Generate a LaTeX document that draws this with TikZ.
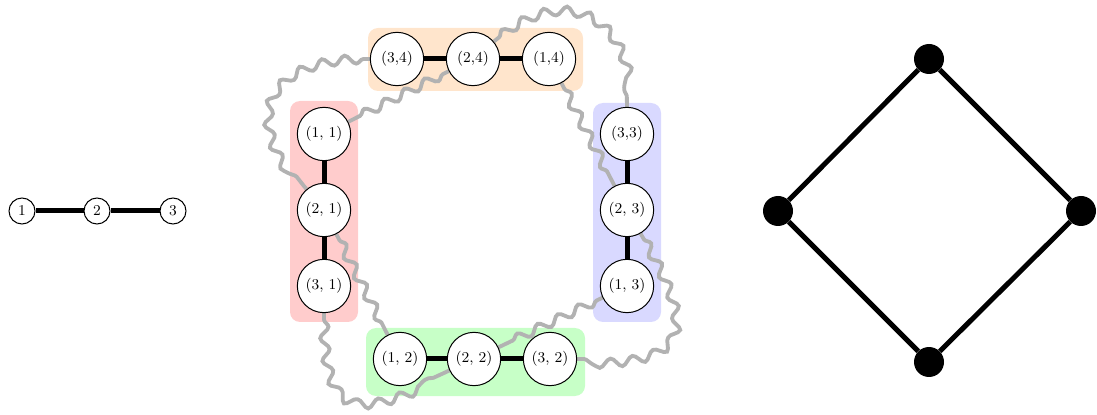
\documentclass[tikz,border=0pt]{standalone}
\usetikzlibrary{decorations.pathmorphing}
\pgfdeclarelayer{back}
\pgfdeclarelayer{mid}
\pgfsetlayers{back,mid,main}
\begin{document}
\begin{tikzpicture}[x=0.6pt,y=-0.6pt,
  small/.style={circle,draw,line width=0.6pt,fill=white,minimum size=15.6pt,inner sep=0pt,font=\small},
  big/.style={circle,draw,line width=0.6pt,fill=white,minimum size=32pt,inner sep=0pt,font=\small},
  dot/.style={circle,fill=black,minimum size=18pt,inner sep=0pt},
  thickedge/.style={line width=3pt},
  wavy/.style={black!30,line width=2.3pt,decorate,decoration={snake,amplitude=2.6pt,segment length=13.5pt,pre length=4pt,post length=4pt}},
  group/.style={rounded corners=6pt}]
\useasboundingbox (0,0) rectangle (1097,415);
% left path graph
\node[small] (p1) at (22,211) {1};
\node[small] (p2) at (97,211) {2};
\node[small] (p3) at (173,211) {3};
\draw[thickedge] (p1) -- (p2) (p2) -- (p3);
% nodes
\node[big] (a34) at (397,59) {(3,4)};
\node[big] (a24) at (473,59) {(2,4)};
\node[big] (a14) at (549,59) {(1,4)};
\node[big] (a11) at (324,134) {(1, 1)};
\node[big] (a21) at (324,210) {(2, 1)};
\node[big] (a31) at (324,286) {(3, 1)};
\node[big] (a33) at (627,134) {(3,3)};
\node[big] (a23) at (627,210) {(2, 3)};
\node[big] (a13) at (627,286) {(1, 3)};
\node[big] (a12) at (400,359) {(1, 2)};
\node[big] (a22) at (474,359) {(2, 2)};
\node[big] (a32) at (550,359) {(3, 2)};
% group backgrounds
\begin{pgfonlayer}{back}
\fill[group,orange!20] (368,28) rectangle (583,91);
\fill[group,red!20] (290,101) rectangle (358,322);
\fill[group,blue!15] (593,103) rectangle (661,322);
\fill[group,green!22] (366,328) rectangle (585,396);
\end{pgfonlayer}
% wavy edges
\begin{pgfonlayer}{mid}
\draw[wavy] (a34) to[out=180,in=130,looseness=1.7] (a21);
\draw[wavy] (a24) -- (a11);
\draw[wavy] (a24) to[out=40,in=90,looseness=1.5] (a33);
\draw[wavy] (a14) -- (a23);
\draw[wavy] (a21) -- (a12);
\draw[wavy] (a31) to[out=-90,in=205,looseness=1.9] (a22);
\draw[wavy] (a13) -- (a22);
\draw[wavy] (a23) to[out=-60,in=0,looseness=2] (a32);
\end{pgfonlayer}
% black edges
\draw[thickedge] (a34) -- (a24) (a24) -- (a14);
\draw[thickedge] (a11) -- (a21) (a21) -- (a31);
\draw[thickedge] (a33) -- (a23) (a23) -- (a13);
\draw[thickedge] (a12) -- (a22) (a22) -- (a32);
% diamond
\node[dot] (d1) at (929,59) {};
\node[dot] (d2) at (778,211) {};
\node[dot] (d3) at (1081,211) {};
\node[dot] (d4) at (929,362) {};
\draw[thickedge] (d1) -- (d2) -- (d4) -- (d3) -- (d1);
\end{tikzpicture}
\end{document}
